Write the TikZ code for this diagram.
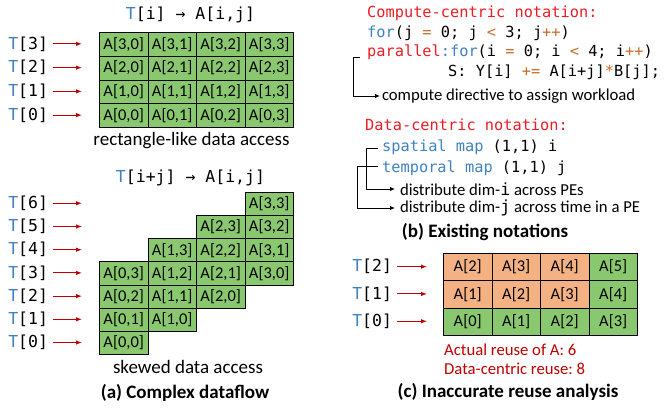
\documentclass[tikz,border=0pt]{standalone}
\usepackage{fontspec}
\setmainfont{Carlito}
\setmonofont{DejaVu Sans Mono}
\usetikzlibrary{arrows.meta}
\definecolor{cblue}{RGB}{62,129,196}
\definecolor{cred}{RGB}{238,28,36}
\definecolor{corange}{RGB}{200,110,40}
\definecolor{adark}{RGB}{192,0,0}
\definecolor{cellgreen}{RGB}{137,200,110}
\definecolor{cellorange}{RGB}{244,177,131}
\frenchspacing
\newcommand\codefont{\fontsize{15.3}{18}\selectfont\ttfamily}
\newcommand\labfont{\fontsize{16.5}{18}\selectfont\ttfamily}
\newcommand\cellfont{\fontsize{16.5}{18}\selectfont}
\newcommand\bigfont{\fontsize{19}{21}\selectfont}
\newcommand\descfont{\fontsize{16.7}{18}\selectfont}
\newcommand\Tb{\textcolor{cblue}{T}}
\begin{document}
\begin{tikzpicture}[x=1pt,y=-1pt,
  cell/.style={draw=black, line width=1pt, fill=cellgreen, minimum width=48.5pt, inner sep=0pt, anchor=north west, font=\cellfont},
  tlab/.style={anchor=east, inner sep=0pt, outer xsep=5pt, font=\labfont},
  rarrow/.style={draw=adark, line width=1pt, -{Latex[length=6pt,width=4.5pt]}},
  barrow/.style={draw=black, line width=1pt, -{Latex[length=5pt,width=4.5pt]}},
  txt/.style={anchor=west, inner sep=0pt},
  ctr/.style={inner sep=0pt}]
\useasboundingbox (0,0) rectangle (666,410);

% ---------- (a) top: rectangle-like ----------
\node[ctr, font=\labfont] (titA) at (190.5,15) {\Tb[i] → A[i,j]};
\foreach \r in {0,...,3}{
  \foreach \c in {0,...,3}{
    \pgfmathtruncatemacro\ii{3-\r}
    \node[cell, minimum height=23.75pt] (ta\ii\c) at ({99+48.5*\c},{32+23.75*\r}) {A[\ii,\c]};
  }
}
\foreach \k in {0,...,3}{
  \pgfmathsetmacro\yy{32+23.75*(3-\k)+11.875}
  \node[tlab] (tt\k) at (53,\yy) {\Tb[\k]};
  \coordinate (tte\k) at (82,\yy);
  \draw[rarrow] (tt\k) -- (tte\k);
}
\node[ctr, font=\bigfont] (rectcap) at (191.5,141) {rectangle-like data access};

% ---------- (a) bottom: skewed ----------
\node[ctr, font=\labfont] (titB) at (190.5,178) {\Tb[i+j] → A[i,j]};
\foreach \i in {0,...,3}{
  \foreach \j in {0,...,3}{
    \node[cell, minimum height=23.2pt] (sa\i\j) at ({99+48.5*\i},{191.7+23.2*(6-\i-\j)}) {A[\i,\j]};
  }
}
\foreach \k in {0,...,6}{
  \pgfmathsetmacro\yy{191.7+23.2*(6-\k)+11.6}
  \node[tlab] (st\k) at (53,\yy) {\Tb[\k]};
  \coordinate (ste\k) at (82,\yy);
  \draw[rarrow] (st\k) -- (ste\k);
}
\node[ctr, font=\bigfont] (skewcap) at (188,367) {skewed data access};
\node[ctr, font=\bigfont\bfseries] (capa) at (185,393) {(a) Complex dataflow};

% ---------- (b) notations ----------
\node[txt, font=\codefont] (cc) at (367,13) {\textcolor{cred}{Compute-centric notation:}};
\node[txt, font=\codefont] (l1) at (367,33) {\textcolor{cblue}{for}(j \textcolor{corange}{=} 0; j \textcolor{corange}{<} 3; j\textcolor{corange}{++})};
\node[txt, font=\codefont] (l2) at (367,52) {\textcolor{cred}{parallel}\textcolor{cblue}{:for}(i \textcolor{corange}{=} 0; i \textcolor{corange}{<} 4; i\textcolor{corange}{++})};
\node[txt, font=\codefont] (l3) at (448,72) {S: Y[i] \textcolor{corange}{+=} A[i+j]\textcolor{corange}{*}B[j];};
\node[txt, font=\descfont, outer xsep=2pt] (cd) at (380,96) {compute directive to assign workload};
\coordinate (b1s) at (360,57);
\coordinate (b1c) at (353,96);
\draw[barrow] (b1s) -| (b1c) -- (cd.west);

\node[txt, font=\codefont] (dc) at (365,125) {\textcolor{cred}{Data-centric notation:}};
\node[txt, font=\codefont] (sp) at (382,147) {\textcolor{cblue}{spatial map} (1,1) i};
\node[txt, font=\codefont] (tp) at (382,168) {\textcolor{cblue}{temporal map} (1,1) j};
\node[txt, font=\descfont, outer xsep=5pt] (di) at (395,189) {distribute dim-{\ttfamily i} across PEs};
\node[txt, font=\descfont, outer xsep=5pt] (dj) at (395,208) {distribute dim-{\ttfamily j} across time in a PE};
\coordinate (s1) at (378,148);
\coordinate (s1c) at (366,189);
\coordinate (s2) at (378,166);
\coordinate (s2c) at (357,208);
\draw[barrow] (s1) -| (s1c) -- (di.west);
\draw[barrow] (s2) -| (s2c) -- (dj.west);
\node[ctr, font=\bigfont\bfseries] (capb) at (485,232) {(b) Existing notations};

% ---------- (c) reuse ----------
\foreach \r/\vals/\cols in {0/{2,3,4,5}/{cellorange,cellorange,cellorange,cellgreen},
                            1/{1,2,3,4}/{cellorange,cellorange,cellorange,cellgreen},
                            2/{0,1,2,3}/{cellgreen,cellgreen,cellgreen,cellgreen}}{
  \foreach \v [count=\c from 0] in \vals {
    \foreach \cl [count=\cc from 0] in \cols {
      \ifnum\c=\cc
        \node[cell, minimum height=27.3pt, fill=\cl] (ra\r\c) at ({443+48.5*\c},{253+27.3*\r}) {A[\v]};
      \fi
    }
  }
}
\foreach \k in {0,1,2}{
  \pgfmathsetmacro\yy{253+27.3*(2-\k)+13.65}
  \node[tlab] (rt\k) at (397,\yy) {\Tb[\k]};
  \coordinate (rte\k) at (427,\yy);
  \draw[rarrow] (rt\k) -- (rte\k);
}
\node[txt, font=\descfont, text=adark] (act) at (444,350) {Actual reuse of A: 6};
\node[txt, font=\descfont, text=adark] (dcr) at (444,369) {Data-centric reuse: 8};
\node[ctr, font=\bigfont\bfseries] (capc) at (508,392) {(c) Inaccurate reuse analysis};
\end{tikzpicture}
\end{document}
